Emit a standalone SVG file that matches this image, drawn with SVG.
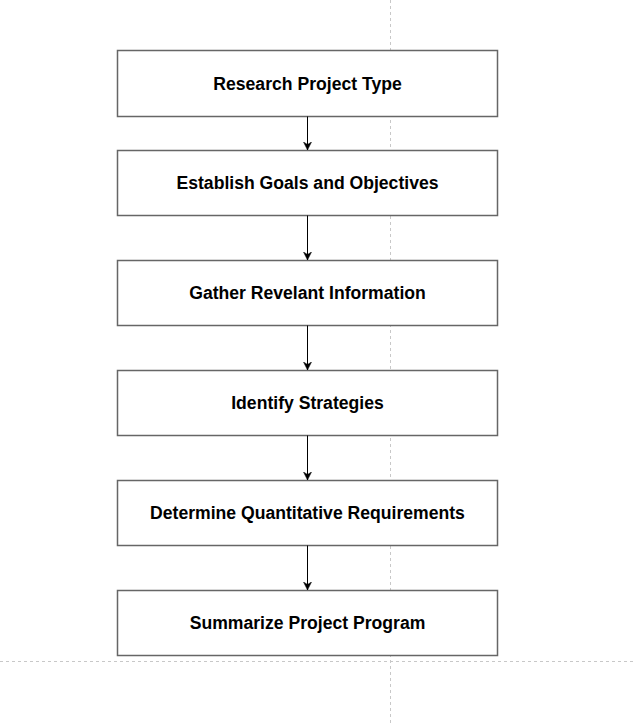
<svg xmlns="http://www.w3.org/2000/svg" width="635" height="724" viewBox="0 0 635 724">
<style>
.node rect{fill:#fff;stroke:#666;stroke-width:1.5}
.node text{font-family:"Liberation Sans",Arial,sans-serif;font-weight:bold;font-size:17.6px;fill:#000;text-anchor:middle;dominant-baseline:central}
.guide{stroke:#c8c8c8;stroke-width:1;stroke-dasharray:3 3;fill:none}
.edge{stroke:#000;stroke-width:1;fill:none;marker-end:url(#arr)}
</style>
<defs>
<marker id="arr" markerWidth="10" markerHeight="10" refX="8" refY="5" orient="auto" markerUnits="userSpaceOnUse">
<path d="M0,1 L8,5 L0,9 L2.5,5 Z" fill="#000" stroke="#000" stroke-width="0.5"/>
</marker>
</defs>
<rect width="635" height="724" fill="#fff"/>
<g id="guides">
<line class="guide" x1="390.5" y1="0" x2="390.5" y2="724"/>
<line class="guide" x1="0" y1="661.5" x2="635" y2="661.5"/>
</g>
<g id="n1" class="node"><rect x="117.5" y="50.5" width="380" height="66"/><text x="307.5" y="84">Research Project Type</text></g>
<g id="n2" class="node"><rect x="117.5" y="150.5" width="380" height="65"/><text x="307.5" y="183">Establish Goals and Objectives</text></g>
<g id="n3" class="node"><rect x="117.5" y="260.5" width="380" height="65"/><text x="307.5" y="293">Gather Revelant Information</text></g>
<g id="n4" class="node"><rect x="117.5" y="370.5" width="380" height="65"/><text x="307.5" y="403">Identify Strategies</text></g>
<g id="n5" class="node"><rect x="117.5" y="480.5" width="380" height="65"/><text x="307.5" y="513">Determine Quantitative Requirements</text></g>
<g id="n6" class="node"><rect x="117.5" y="590.5" width="380" height="65"/><text x="307.5" y="623">Summarize Project Program</text></g>
<g id="edges">
<line class="edge" x1="307.5" y1="116.5" x2="307.5" y2="150"/>
<line class="edge" x1="307.5" y1="215.5" x2="307.5" y2="260"/>
<line class="edge" x1="307.5" y1="325.5" x2="307.5" y2="370"/>
<line class="edge" x1="307.5" y1="435.5" x2="307.5" y2="480"/>
<line class="edge" x1="307.5" y1="545.5" x2="307.5" y2="590"/>
</g>
</svg>
